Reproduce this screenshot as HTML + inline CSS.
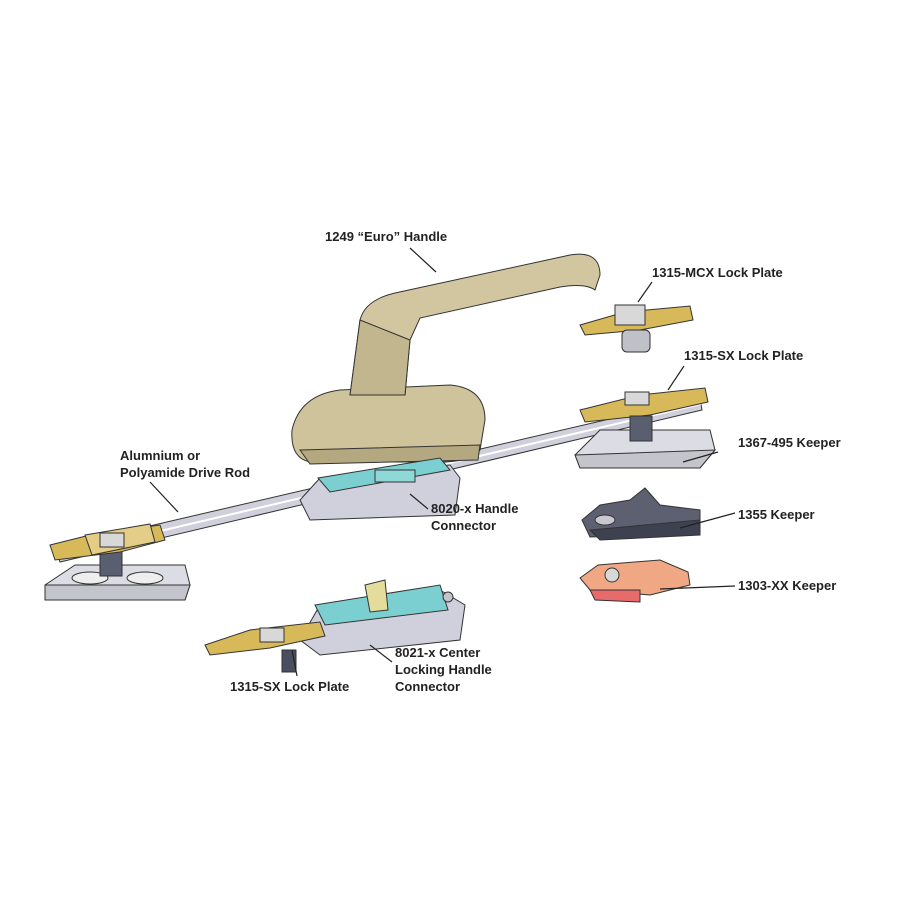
<!DOCTYPE html>
<html><head><meta charset="utf-8"><style>
html,body{margin:0;padding:0;background:#fff}
svg{display:block}
text{font-family:"Liberation Sans",sans-serif;font-weight:bold;font-size:13px;fill:#222}
</style></head><body>
<svg width="900" height="900" viewBox="0 0 900 900" xmlns="http://www.w3.org/2000/svg">
<rect width="900" height="900" fill="#fff"/>
<g stroke="#333" stroke-width="1">
<!-- drive rod -->
<polygon points="55,548 700,398 702,410 60,562" fill="#d0cfdc"/>
<line x1="58" y1="555" x2="701" y2="404" stroke="#fff" stroke-width="2"/>
<!-- keepers left -->
<polygon points="45,585 75,565 185,565 190,585 185,600 45,600" fill="#dcdce4"/>
<polygon points="45,585 190,585 185,600 45,600" fill="#c4c4cc"/>
<ellipse cx="90" cy="578" rx="18" ry="6" fill="#eee"/>
<ellipse cx="145" cy="578" rx="18" ry="6" fill="#eee"/>
<rect x="100" y="548" width="22" height="28" fill="#5a5f70"/>
<!-- left lock plate -->
<polygon points="50,545 90,535 160,525 165,540 120,552 55,560" fill="#d8b95a"/>
<polygon points="85,535 150,524 155,542 92,555" fill="#e4cd86"/>
<rect x="100" y="533" width="24" height="14" fill="#d8d8d8"/>
<!-- handle base -->
<path d="M292,430 Q300,395 340,390 L450,385 Q485,388 485,420 L480,450 Q470,462 440,462 L310,462 Q290,458 292,430Z" fill="#cfc39c"/>
<path d="M300,450 L480,445 L478,460 L310,464Z" fill="#b4a880"/>
<!-- handle stem & arm -->
<path d="M350,395 L360,320 Q365,300 395,293 L570,255 Q600,250 600,275 L595,290 Q585,283 560,287 L420,318 L410,340 L405,395Z" fill="#d2c6a0"/>
<path d="M360,320 L410,340 L405,395 L350,395Z" fill="#c2b68e"/>
<!-- handle connector 8020 -->
<polygon points="300,500 320,478 450,465 460,478 455,515 310,520" fill="#d0d0dc"/>
<polygon points="318,478 440,458 450,470 330,492" fill="#7ccfd0"/>
<rect x="375" y="470" width="40" height="12" fill="#8ed8d8"/>
<!-- right lock plate 1315-SX -->
<polygon points="580,410 640,395 705,388 708,402 650,415 585,422" fill="#d8b95a"/>
<rect x="625" y="392" width="24" height="13" fill="#d8d8d8"/>
<!-- 1367 keeper -->
<polygon points="575,455 600,430 710,430 715,450 700,468 580,468" fill="#dcdce4"/>
<polygon points="575,455 715,450 700,468 580,468" fill="#c4c4cc"/>
<rect x="630" y="416" width="22" height="25" fill="#5a5f70"/>
<!-- MCX plate -->
<polygon points="580,325 625,312 690,306 693,320 640,330 585,335" fill="#d8b95a"/>
<rect x="615" y="305" width="30" height="20" fill="#d8d8d8"/>
<rect x="622" y="330" width="28" height="22" rx="5" fill="#bfc0c8"/>
<!-- 1355 keeper -->
<path d="M582,520 L600,505 L630,500 L645,488 L660,505 L700,510 L700,525 L660,535 L590,537 Z" fill="#5c6070"/>
<polygon points="590,530 700,520 700,535 600,540" fill="#3e4250"/>
<ellipse cx="605" cy="520" rx="10" ry="5" fill="#c8c8d0"/>
<!-- 1303 keeper -->
<path d="M580,578 L598,565 L660,560 L688,572 L690,585 L650,595 L590,590Z" fill="#f0a884"/>
<polygon points="590,590 640,590 640,602 595,600" fill="#e76b6b"/>
<circle cx="612" cy="575" r="7" fill="#d8d8d8"/>
<!-- 8021 connector -->
<polygon points="300,640 320,605 440,590 465,605 460,640 320,655" fill="#d0d0dc"/>
<polygon points="315,605 440,585 448,610 325,625" fill="#7ccfd0"/>
<polygon points="365,585 385,580 388,610 370,612" fill="#e3dc9a"/>
<circle cx="448" cy="597" r="5" fill="#c4c4cc"/>
<!-- bottom lock plate -->
<polygon points="205,645 250,630 320,622 325,636 270,648 210,655" fill="#d8b95a"/>
<rect x="260" y="628" width="24" height="14" fill="#d8d8d8"/>
<rect x="282" y="650" width="14" height="22" fill="#4a4f60"/>
</g>
<!-- leaders -->
<g stroke="#222" stroke-width="1.2" fill="none">
<line x1="410" y1="248" x2="436" y2="272"/>
<line x1="652" y1="282" x2="638" y2="302"/>
<line x1="684" y1="366" x2="668" y2="390"/>
<line x1="718" y1="452" x2="683" y2="462"/>
<line x1="150" y1="482" x2="178" y2="512"/>
<line x1="428" y1="509" x2="410" y2="494"/>
<line x1="735" y1="513" x2="680" y2="528"/>
<line x1="735" y1="586" x2="660" y2="589"/>
<line x1="392" y1="662" x2="370" y2="645"/>
<line x1="297" y1="676" x2="292" y2="650"/>
</g>
<text x="325" y="241">1249 “Euro” Handle</text>
<text x="652" y="277">1315-MCX Lock Plate</text>
<text x="684" y="360">1315-SX Lock Plate</text>
<text x="738" y="447">1367-495 Keeper</text>
<text x="120" y="460">Alumnium or</text>
<text x="120" y="477">Polyamide Drive Rod</text>
<text x="431" y="513">8020-x Handle</text>
<text x="431" y="530">Connector</text>
<text x="738" y="519">1355 Keeper</text>
<text x="738" y="590">1303-XX Keeper</text>
<text x="395" y="657">8021-x Center</text>
<text x="395" y="674">Locking Handle</text>
<text x="395" y="691">Connector</text>
<text x="230" y="691">1315-SX Lock Plate</text>
</svg>
</body></html>
